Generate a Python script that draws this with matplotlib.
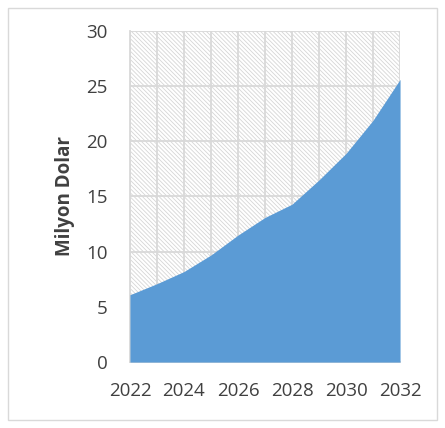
import matplotlib.pyplot as plt
from matplotlib.patches import Rectangle

years = [2022, 2023, 2024, 2025, 2026, 2027, 2028, 2029, 2030, 2031, 2032]
values = [6.1, 7.1, 8.2, 9.7, 11.5, 13.1, 14.3, 16.5, 18.9, 21.9, 25.6]
tick_years = [2022, 2024, 2026, 2028, 2030, 2032]
y_ticks = [0, 5, 10, 15, 20, 25, 30]

plt.rcParams['font.family'] = ['Open Sans', 'DejaVu Sans']
plt.rcParams['hatch.linewidth'] = 0.6
plt.rcParams['hatch.color'] = '#d6d6d6'

fig = plt.figure(figsize=(4.45, 4.28), dpi=100)
ax = fig.add_axes([0.292, 0.154, 0.607, 0.774])

# hatched background of plot area
bg = Rectangle((0, 0), 1, 1, transform=ax.transAxes, facecolor='white',
               edgecolor='#d6d6d6', hatch='\\' * 8, linewidth=0, zorder=0)
ax.add_patch(bg)

ax.fill_between(years, 0, values, color='#5B9BD5', linewidth=0, zorder=3)

ax.set_xlim(2022, 2032)
ax.set_ylim(0, 30)
ax.set_xticks(tick_years)
ax.set_xticks(years, minor=True)
ax.set_yticks(y_ticks)
ax.grid(True, which='both', axis='x', color='#d9d9d9', linewidth=1.3, zorder=1)
ax.grid(True, which='major', axis='y', color='#d9d9d9', linewidth=1.3, zorder=1)
ax.set_axisbelow(True)
ax.tick_params(which='both', length=0, labelsize=13.5, labelcolor='#404040')
ax.tick_params(axis='x', pad=14)
ax.tick_params(axis='y', pad=16)

for s in ['top', 'right']:
    ax.spines[s].set_visible(False)
for s in ['left', 'bottom']:
    ax.spines[s].set_color('#d9d9d9')
    ax.spines[s].set_linewidth(1.3)

ax.set_ylabel('Milyon Dolar', fontsize=13.5, fontweight='bold', color='#404040', labelpad=8)

# outer chart border
fig.patches.append(Rectangle((8 / 445, 8 / 428), 429 / 445, 412 / 428, transform=fig.transFigure,
                             fill=False, edgecolor='#d9d9d9', linewidth=1))

fig.savefig('out.png', dpi=100)
